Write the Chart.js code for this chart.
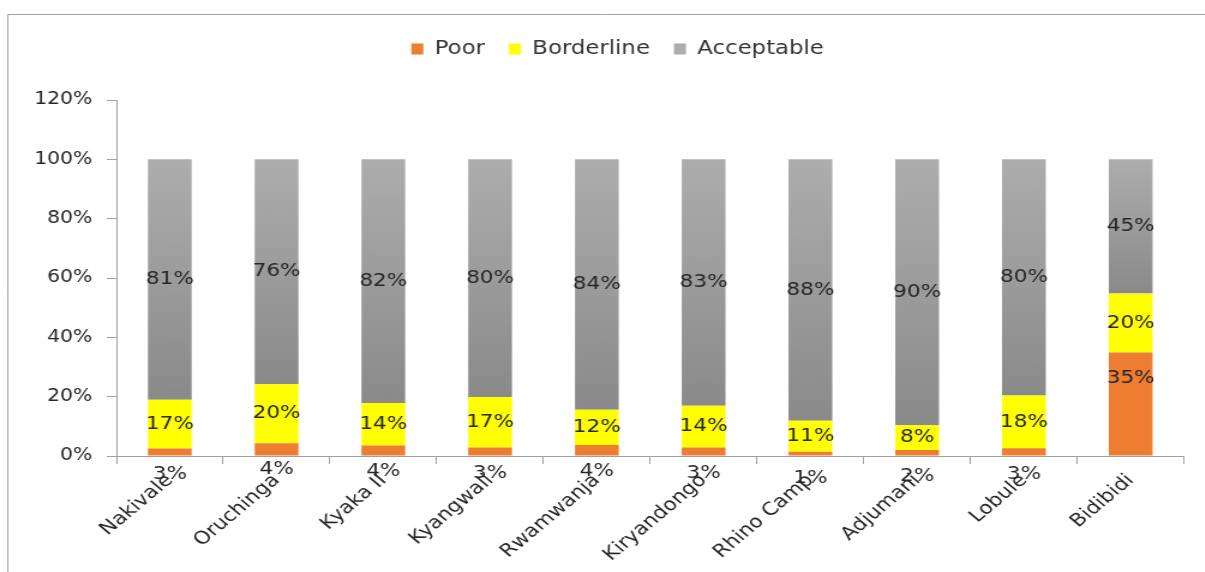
<!DOCTYPE html>
<html>
<head>
<meta charset="utf-8">
<script src="https://cdn.jsdelivr.net/npm/chart.js@4"></script>
<style>
  html, body { margin: 0; padding: 0; background: #fff; overflow: hidden; }
  #wrap { width: 1004px; height: 572px; transform: scaleX(1.2); transform-origin: 0 0; position: relative; }
</style>
</head>
<body>
<div id="wrap"><canvas id="c"></canvas></div>
<script>
const categories = ['Nakivale', 'Oruchinga', 'Kyaka II', 'Kyangwali', 'Rwamwanja', 'Kiryandongo', 'Rhino Camp', 'Adjumani', 'Lobule', 'Bidibidi'];
const poor       = [2.5, 4.3, 3.5, 2.9, 3.7, 2.9, 1.4, 2.0, 2.6, 34.9];
const borderline = [16.5, 19.9, 14.4, 17.0, 11.9, 14.0, 10.5, 8.4, 17.8, 19.9];
const acceptable = [81.0, 75.8, 82.1, 80.1, 84.4, 83.1, 88.1, 89.6, 79.6, 45.2];
const yTicks = [0, 20, 40, 60, 80, 100, 120];

Chart.defaults.font.family = "'DejaVu Sans', Verdana, sans-serif";
Chart.defaults.color = '#333';

function grayFill(ctx) {
  const chart = ctx.chart;
  const y = chart.scales.y;
  if (!chart.chartArea || !y) return '#9c9c9c';
  const i = ctx.dataIndex || 0;
  const top = y.getPixelForValue(poor[i] + borderline[i] + acceptable[i]);
  const bottom = y.getPixelForValue(poor[i] + borderline[i]);
  if (!isFinite(top) || !isFinite(bottom) || top === bottom) return '#9c9c9c';
  const g = chart.ctx.createLinearGradient(0, top, 0, bottom);
  g.addColorStop(0, '#adadad');
  g.addColorStop(1, '#8a8a8a');
  return g;
}

const frame = {
  id: 'frame',
  beforeDraw(chart) {
    const c = chart.ctx;
    c.save();
    c.strokeStyle = '#a0a0a0';
    c.lineWidth = 1;
    c.beginPath();
    c.moveTo(6.5, 600);
    c.lineTo(6.5, 14.5);
    c.lineTo(1100, 14.5);
    c.stroke();
    c.restore();
  }
};

// shift the legend block slightly right of the canvas centre, as in the original
const legendShift = {
  id: 'legendShift',
  afterLayout(chart) {
    const lg = chart.legend;
    if (lg) { lg.left += 21.3; lg.right += 21.3; }
  }
};

const valueLabels = {
  id: 'valueLabels',
  afterDatasetsDraw(chart) {
    const c = chart.ctx;
    c.save();
    c.font = "18px 'DejaVu Sans', Verdana, sans-serif";
    c.fillStyle = '#262626';
    c.textAlign = 'center';
    c.textBaseline = 'middle';
    chart.data.datasets.forEach((ds, di) => {
      const meta = chart.getDatasetMeta(di);
      meta.data.forEach((el, i) => {
        const p = el.getProps(['x', 'y', 'base'], true);
        const txt = Math.round(ds.data[i]) + '%';
        let ty = (p.y + p.base) / 2;
        if (di === 0) ty = p.y + 26;
        c.fillText(txt, p.x, ty);
      });
    });
    c.restore();
  }
};

new Chart(document.getElementById('c'), {
  type: 'bar',
  data: {
    labels: categories,
    datasets: [
      { label: 'Poor', data: poor, backgroundColor: '#ED7D31' },
      { label: 'Borderline', data: borderline, backgroundColor: '#FFFF00' },
      { label: 'Acceptable', data: acceptable, backgroundColor: grayFill }
    ]
  },
  options: {
    responsive: true,
    maintainAspectRatio: false,
    animation: false,
    events: [],
    layout: { padding: { left: 0, top: 19.5, right: 17.3, bottom: 0 } },
    datasets: { bar: { barPercentage: 0.41, categoryPercentage: 1.0 } },
    plugins: {
      legend: {
        position: 'top',
        labels: {
          boxWidth: 10,
          boxHeight: 11,
          padding: 20,
          color: '#333',
          font: { size: 19 }
        }
      },
      title: {
        display: true,
        text: ' ',
        weight: 500,
        color: 'rgba(0,0,0,0)',
        font: { size: 12, lineHeight: 1 },
        padding: { top: 0, bottom: 19.5 }
      },
      tooltip: { enabled: false }
    },
    scales: {
      x: {
        stacked: true,
        afterFit(scale) { scale.height = 116; },
        grid: { drawOnChartArea: false, color: '#a0a0a0', tickLength: 8, offset: true },
        border: { color: '#a0a0a0' },
        ticks: {
          autoSkip: false,
          minRotation: 45,
          maxRotation: 45,
          color: '#262626',
          font: { size: 18 },
          padding: 6
        }
      },
      y: {
        stacked: true,
        min: yTicks[0],
        max: yTicks[yTicks.length - 1],
        afterFit(scale) { scale.width = 97; },
        grid: { drawOnChartArea: false, color: '#a0a0a0', tickLength: 8 },
        border: { color: '#a0a0a0' },
        ticks: {
          stepSize: 20,
          padding: 12,
          color: '#262626',
          font: { size: 17 },
          callback: v => v + '%'
        }
      }
    }
  },
  plugins: [frame, legendShift, valueLabels]
});
</script>
</body>
</html>
